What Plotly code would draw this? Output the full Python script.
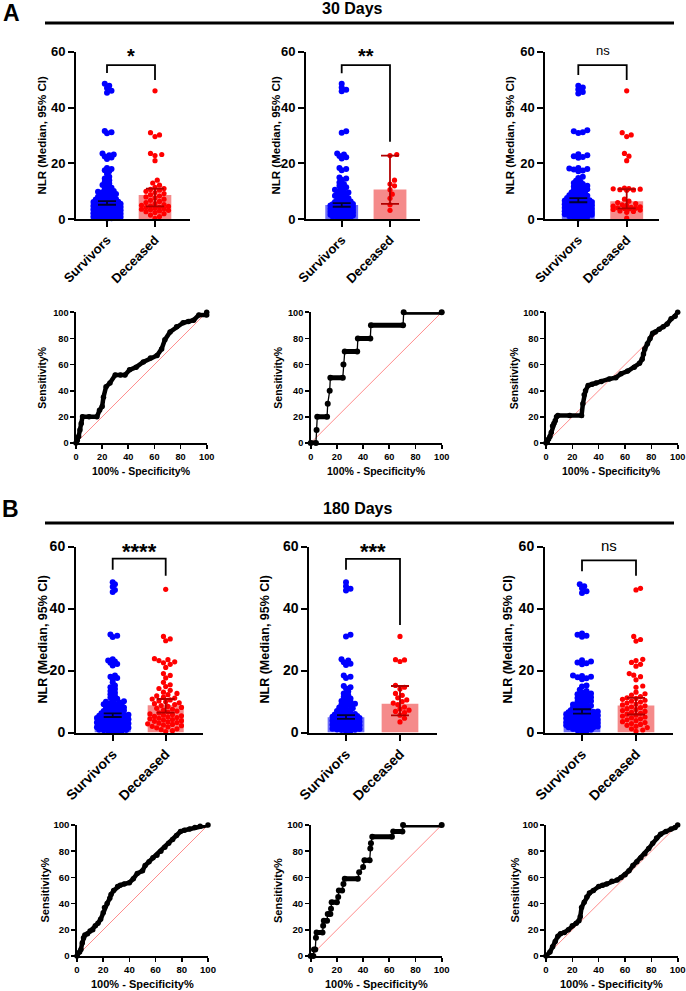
import numpy as np
import plotly.graph_objects as go

W, H = 686, 991
FONT = "Arial, 'Liberation Sans', Helvetica, sans-serif"

# ---------------- DATA ----------------
CATEGORIES = ["Survivors", "Deceased"]
SECTION_LETTERS = ["A", "B"]
SECTION_TITLES = ["30 Days", "180 Days"]

SURV_LEFT = [48.5, 47.8, 47.0, 46.0, 45.3, 31.6, 31.2, 30.8, 23.6, 23.2, 22.9, 22.5, 22.1, 21.6,
             18.4, 18.0, 17.6, 17.2, 16.2, 15.2, 14.6, 14.0, 13.4, 12.8, 12.3, 11.8, 11.3, 10.9,
             10.5, 10.1, 9.9, 9.7, 9.5, 9.3, 9.1, 8.9, 8.7, 8.5, 8.3, 8.1, 7.9, 7.7, 7.5, 7.3, 7.1,
             6.9, 6.8, 6.6, 6.5, 6.3, 6.2, 6.0, 5.9, 5.8, 5.7, 5.6, 5.5, 5.4, 5.3, 5.2, 5.1, 5.0,
             4.9, 4.8, 4.7, 4.6, 4.5, 4.4, 4.3, 4.2, 4.1, 4.0, 3.9, 3.8, 3.7, 3.6, 3.5, 3.4, 3.3,
             3.2, 3.1, 3.0, 2.9, 2.8, 2.7, 2.6, 2.5, 2.4, 2.3, 2.2, 2.1, 2.0, 1.9, 1.8, 1.7, 1.6,
             1.5, 1.4, 1.3, 1.2, 1.1, 1.0, 0.9, 0.8, 0.7, 0.6, 0.5, 0.4, 0.3]
SURV_MID = [48.5, 47.2, 46.4, 45.8, 31.5, 31.0, 23.6, 23.2, 22.7, 22.2, 21.8, 18.4, 18.0, 17.6,
            15.0, 14.6, 14.2, 13.2, 12.6, 12.0, 11.5, 11.0, 10.6, 10.2, 9.9, 9.6, 9.3, 9.0, 8.7,
            8.4, 8.1, 7.8, 7.5, 7.2, 6.9, 6.6, 6.4, 6.2, 6.0, 5.8, 5.6, 5.5, 5.4, 5.3, 5.2, 5.1,
            5.0, 4.9, 4.8, 4.7, 4.6, 4.5, 4.4, 4.3, 4.2, 4.1, 4.0, 3.9, 3.8, 3.7, 3.6, 3.5, 3.4,
            3.3, 3.2, 3.1, 3.0, 2.9, 2.8, 2.7, 2.6, 2.5, 2.4, 2.3, 2.2, 2.1, 2.0, 1.9, 1.8, 1.7,
            1.6, 1.5, 1.4, 1.3, 1.2, 1.1, 1.0, 0.9, 0.8, 0.6, 0.4]
SURV_RIGHT = [47.8, 47.2, 46.5, 45.6, 45.0, 31.9, 31.5, 31.2, 30.9, 23.3, 22.9, 22.6, 22.3, 22.0,
              18.4, 18.2, 18.0, 17.8, 17.5, 17.2, 15.2, 14.8, 13.8, 13.4, 13.0, 12.6, 12.3, 12.0,
              11.7, 11.4, 11.1, 10.8, 10.5, 10.2, 9.9, 9.6, 9.3, 9.0, 8.8, 8.6, 8.4, 8.2, 8.0, 7.8,
              7.6, 7.4, 7.2, 7.0, 6.9, 6.8, 6.7, 6.6, 6.5, 6.4, 6.3, 6.2, 6.1, 6.0, 5.9, 5.8, 5.7,
              5.6, 5.5, 5.4, 5.3, 5.2, 5.1, 5.0, 4.9, 4.8, 4.7, 4.6, 4.5, 4.4, 4.3, 4.2, 4.1, 4.0,
              3.9, 3.8, 3.7, 3.6, 3.5, 3.4, 3.3, 3.2, 3.1, 3.0, 2.9, 2.8, 2.7, 2.6, 2.5, 2.4, 2.3,
              2.2, 2.1, 2.0, 1.9, 1.8, 1.7, 1.6, 1.5, 1.3, 1.1, 0.9, 0.7, 0.5, 0.3]

DEC_A_LEFT = [46.0, 31.0, 30.2, 29.6, 23.6, 23.2, 22.8, 21.0, 14.0, 13.0, 12.2, 11.4, 11.0, 10.7,
              10.4, 10.0, 9.6, 9.2, 8.8, 8.4, 8.0, 7.6, 7.2, 6.8, 6.4, 6.0, 5.6, 5.3, 5.0, 4.8, 4.6,
              4.4, 4.2, 4.0, 3.8, 3.6, 3.4, 3.2, 3.0, 2.7, 2.4, 2.0, 1.5, 1.0, 0.3]
DEC_A_MID = [23.2, 22.8, 14.0, 12.6, 12.0, 10.6, 9.0, 7.5, 5.2, 3.2]
DEC_A_RIGHT = [46.0, 31.0, 30.2, 29.6, 23.6, 22.6, 21.0, 11.2, 11.0, 10.9, 10.8, 10.6, 10.5, 10.4,
               7.2, 6.5, 6.0, 5.6, 5.2, 5.0, 4.7, 4.5, 4.3, 4.1, 4.0, 3.9, 3.7, 3.5, 3.3, 3.0, 2.8,
               2.5, 0.4]
DEC_B_LEFT = [46.2, 31.0, 30.2, 29.6, 23.8, 23.5, 23.2, 22.8, 22.5, 22.0, 21.0, 19.0, 18.4, 17.6,
              16.2, 15.4, 14.8, 14.2, 13.6, 13.0, 12.6, 12.2, 11.8, 11.4, 11.1, 10.8, 10.5, 10.2,
              9.9, 9.6, 9.3, 9.0, 8.7, 8.4, 8.1, 7.8, 7.5, 7.2, 6.9, 6.6, 6.3, 6.0, 5.8, 5.6, 5.4,
              5.2, 5.0, 4.8, 4.6, 4.4, 4.2, 4.0, 3.8, 3.6, 3.4, 3.2, 3.0, 2.8, 2.6, 2.4, 2.2, 2.0,
              1.8, 1.5, 1.2, 0.9, 0.6, 0.3]
DEC_B_MID = [31.0, 23.5, 23.4, 22.9, 15.2, 14.6, 14.0, 12.6, 12.0, 11.2, 10.5, 10.0, 9.5, 9.0,
             8.2, 7.6, 7.2, 6.8, 6.4, 5.6, 4.6, 3.4]
DEC_B_RIGHT = [46.5, 46.0, 31.0, 30.0, 29.5, 23.6, 23.2, 22.6, 22.0, 21.4, 19.0, 18.5, 18.0, 17.0,
               15.0, 14.6, 13.0, 12.5, 12.1, 11.6, 11.2, 11.0, 10.7, 10.4, 10.1, 9.8, 9.5, 9.2,
               8.9, 8.6, 8.3, 8.0, 7.7, 7.4, 7.1, 6.8, 6.5, 6.2, 5.9, 5.6, 5.3, 5.0, 4.7, 4.4, 4.1,
               3.8, 3.5, 3.2, 2.9, 2.6, 2.3, 2.0, 1.6, 1.2, 0.8, 0.4]

# [survivors, deceased] per panel (left, mid, right)
MED_A = [[5.8, 8.7], [5.1, 10.7], [6.8, 6.5]]
CI_LO_A = [[5.2, 4.6], [4.5, 5.5], [6.1, 3.9]]
CI_HI_A = [[6.5, 11.0], [5.8, 22.8], [7.6, 10.8]]
MED_B = [[5.4, 8.8], [4.9, 9.3], [6.8, 8.7]]
CI_LO_B = [[5.0, 6.4], [4.4, 5.5], [6.1, 5.8]]
CI_HI_B = [[6.2, 10.8], [5.6, 15.0], [7.5, 11.2]]
SIG_A = ["*", "**", "ns"]
SIG_B = ["****", "***", "ns"]

Y_TICKS_BAR = [0, 20, 40, 60]
ROC_TICKS = [0, 20, 40, 60, 80, 100]

ROC_A_LEFT_X = [0, 1, 2, 3, 4, 5, 10, 16, 18, 20, 21, 23, 26, 30, 34, 37.5, 41, 46, 51.5, 57, 62, 65.5, 68, 72, 77, 82, 86, 90, 94, 100, 100]
ROC_A_LEFT_Y = [0, 2, 5, 10, 15, 20, 20, 20, 25, 28, 35, 43, 46, 52, 52, 52, 56, 58, 62, 65, 67, 72, 79, 85, 89, 92, 93, 94, 98, 98, 100]
ROC_A_MID_X = [0, 4, 4.5, 5, 12.5, 13, 14.5, 15, 24.5, 25, 26, 35.5, 36, 45.5, 46, 70.5, 71, 100]
ROC_A_MID_Y = [0, 0, 10, 20, 20, 30, 40, 50, 50, 60, 70, 70, 80, 80, 90, 90, 100, 100]
ROC_A_RIGHT_X = [0, 1, 2, 3, 4, 5, 6, 7, 8, 9, 18, 27, 28, 29, 30, 32, 35, 38, 42, 48, 53, 57, 62, 67, 71, 73, 74, 75, 77, 79, 81, 83, 86, 89, 92, 95, 98, 100]
ROC_A_RIGHT_Y = [0, 1, 3, 5, 8, 13, 15, 17, 20, 21, 21, 21, 30, 37, 40, 44, 45, 46, 47, 49, 50, 53, 55, 58, 61, 64, 68, 72, 76, 80, 84, 85, 87, 89, 91, 95, 97, 100]
ROC_B_LEFT_X = [0, 2, 3, 4, 5, 6, 8, 10, 12, 14, 16, 18, 20, 21, 23, 25, 26, 28, 31, 33, 36, 40, 43, 46, 50, 52, 55, 58, 61, 64, 67, 70, 73, 76, 79, 82, 86, 90, 94, 100]
ROC_B_LEFT_Y = [0, 3, 5, 10, 14, 16, 17, 19, 20, 23, 25, 28, 33, 37, 40, 44, 47, 50, 53, 54, 55, 56, 59, 63, 65, 69, 72, 75, 77, 80, 83, 86, 89, 92, 95, 96, 97, 98, 99, 100]
ROC_B_MID_X = [0, 2, 2.5, 3.5, 4, 4.5, 9, 9.5, 10, 12.5, 13, 15, 15.5, 16, 20, 21, 21.5, 24, 25, 26, 36, 37, 40, 41, 45, 45.5, 46, 47, 62, 63, 70, 70.5, 100]
ROC_B_MID_Y = [0, 0, 5, 5, 14, 18, 18, 23, 27, 27, 32, 32, 36, 41, 41, 45, 50, 50, 55, 59, 59, 64, 68, 73, 73, 82, 86, 91, 91, 95, 95, 100, 100]
ROC_B_RIGHT_X = [0, 3, 5, 7, 9, 11, 14, 17, 20, 23, 25, 26, 27, 29, 31, 33, 36, 40, 43, 46, 50, 54, 57, 60, 63, 66, 69, 72, 75, 78, 81, 84, 87, 91, 95, 98, 100]
ROC_B_RIGHT_Y = [0, 3, 7, 11, 15, 17, 18, 20, 23, 25, 27, 30, 37, 41, 45, 48, 50, 53, 54, 55, 57, 58, 60, 62, 65, 69, 72, 75, 78, 82, 86, 90, 93, 95, 97, 98, 100]

# ---------------- LAYOUT (pixel geometry) ----------------
def fx(x):
    return x / W

def fy(y):
    return 1 - y / H

BLUE = "#0000ff"
RED = "#ff0000"
BLUE_BAR = "#6e6ef8"
RED_BAR = "#f58a8a"
BLUE_ERR = "#000033"
RED_ERR = "#b00000"

BAR_PANELS = [
    dict(x0=76, x1=190, c0=107, c1=155, yt=51.7, yb=219.3, tx=42, sec=0),
    dict(x0=306, x1=420, c0=341.7, c1=390, yt=51.7, yb=219.3, tx=276, sec=0),
    dict(x0=545.3, x1=659, c0=578.3, c1=626.7, yt=51.7, yb=219.3, tx=510, sec=0),
    dict(x0=76, x1=203, c0=112.7, c1=165.7, yt=546.5, yb=732.5, tx=42, sec=1),
    dict(x0=309.3, x1=436.7, c0=346, c1=400, yt=546.5, yb=732.5, tx=264, sec=1),
    dict(x0=545, x1=672.7, c0=582, c1=636, yt=546.5, yb=732.5, tx=507, sec=1),
]
BRACKETS = [(55.2, 52.4, 49.9), (55.2, 52.3, 27.8), (55.2, 51.7, 49.9),
            (56.1, 52.5, 50.6), (56.0, 52.5, 34.7), (55.5, 52.0, 50.6)]
SIG_CENTER_Y = [51.7, 51.7, 51.7, 546.7, 546.7, 547.3]

ROC_PANELS = [
    dict(x0=76, x1=206.7, yt=312.3, yb=443, tx=42, sec=0),
    dict(x0=310.7, x1=441.7, yt=312.3, yb=443, tx=278, sec=0),
    dict(x0=546, x1=677.7, yt=312.3, yb=443, tx=513.5, sec=0),
    dict(x0=77, x1=208, yt=825, yb=956, tx=44, sec=1),
    dict(x0=310.7, x1=441.7, yt=825, yb=956, tx=277.5, sec=1),
    dict(x0=546, x1=677.7, yt=825, yb=956, tx=514, sec=1),
]
ROC_DATA = [(ROC_A_LEFT_X, ROC_A_LEFT_Y, False), (ROC_A_MID_X, ROC_A_MID_Y, True),
            (ROC_A_RIGHT_X, ROC_A_RIGHT_Y, False), (ROC_B_LEFT_X, ROC_B_LEFT_Y, False),
            (ROC_B_MID_X, ROC_B_MID_Y, True), (ROC_B_RIGHT_X, ROC_B_RIGHT_Y, False)]

SURV_SETS = [SURV_LEFT, SURV_MID, SURV_RIGHT, SURV_LEFT, SURV_MID, SURV_RIGHT]
DEC_SETS = [DEC_A_LEFT, DEC_A_MID, DEC_A_RIGHT, DEC_B_LEFT, DEC_B_MID, DEC_B_RIGHT]
MEDS = MED_A + MED_B
LOS = CI_LO_A + CI_LO_B
HIS = CI_HI_A + CI_HI_B
SIGS = SIG_A + SIG_B
BLUE_HALF = [15.5, 13, 15.5, 16.5, 14, 16.5]
RED_HALF = [14, 12, 14, 18, 15, 16]


def swarm(values, ppu_y, d, maxhalf, tight):
    vals = np.sort(np.asarray(values, float))
    ys = vals * ppu_y
    step = d * 0.45
    cands = [0.0]
    k = 1
    while k * step <= maxhalf:
        cands += [k * step, -k * step]
        k += 1
    placed = []
    xs = np.zeros(len(vals))
    for i, y in enumerate(ys):
        chosen = None
        best_c, best_s = 0.0, -1.0
        for c in cands:
            mind = 1e9
            for (px_, py_) in placed:
                if abs(py_ - y) < d:
                    mind = min(mind, np.hypot(px_ - c, py_ - y))
            if mind >= d * tight:
                chosen = c
                break
            if mind > best_s:
                best_s, best_c = mind, c
        if chosen is None:
            chosen = best_c
        xs[i] = chosen
        placed.append((chosen, y))
    return vals, xs


fig = go.Figure()
layout = dict(width=W, height=H, margin=dict(l=0, r=0, t=0, b=0, pad=0, autoexpand=False),
              paper_bgcolor="white", plot_bgcolor="white", showlegend=False,
              barmode="overlay", font=dict(family=FONT, color="black"))
annotations = []
shapes = []

ax = 0
for i, p in enumerate(BAR_PANELS):
    ax += 1
    xa, ya = f"x{ax}", f"y{ax}"
    s = p["c1"] - p["c0"]
    ppu = (p["yb"] - p["yt"]) / 60.0
    big = p["sec"] == 1
    tick_fs = 14 if big else 13
    layout[f"xaxis{ax}"] = dict(
        domain=[fx(p["x0"]), fx(p["x1"])], anchor=ya, automargin=False,
        range=[(p["x0"] - p["c0"]) / s, (p["x1"] - p["c0"]) / s],
        tickvals=[0, 1], ticktext=CATEGORIES, tickangle=-45,
        showline=True, linecolor="black", linewidth=2, ticks="outside", ticklen=6,
        tickwidth=2, tickcolor="black", showgrid=False, zeroline=False,
        tickfont=dict(family=FONT, size=tick_fs, color="black", weight="bold"))
    layout[f"yaxis{ax}"] = dict(
        domain=[fy(p["yb"]), fy(p["yt"])], anchor=xa, range=[0, 60], automargin=False,
        tickvals=Y_TICKS_BAR, showline=True, linecolor="black", linewidth=2,
        ticks="outside", ticklen=6, tickwidth=2, tickcolor="black", showgrid=False,
        zeroline=False, tickfont=dict(family=FONT, size=tick_fs, color="black", weight="bold"))

    meds, los, his = MEDS[i], LOS[i], HIS[i]
    for k, col in enumerate([BLUE_BAR, RED_BAR]):
        fig.add_trace(go.Bar(x=[k], y=[meds[k]], width=0.68, marker=dict(color=col, line=dict(width=0)),
                             xaxis=xa, yaxis=ya, hoverinfo="skip"))
    for k, (vals, col, mh, tight, msz) in enumerate([(SURV_SETS[i], BLUE, BLUE_HALF[i], 0.62, 6.0),
                                                     (DEC_SETS[i], RED, RED_HALF[i], 0.95, 5.2)]):
        v, offs = swarm(vals, ppu, 5.0, mh, tight)
        fig.add_trace(go.Scatter(x=k + offs / s, y=v, mode="markers",
                                 marker=dict(size=msz, color=col, line=dict(width=0)),
                                 cliponaxis=False, xaxis=xa, yaxis=ya, hoverinfo="skip"))
    for k, col in enumerate([BLUE_ERR, RED_ERR]):
        fig.add_trace(go.Scatter(x=[k], y=[meds[k]], mode="markers", marker=dict(size=1, opacity=0),
                                 error_y=dict(type="data", symmetric=False, array=[his[k] - meds[k]],
                                              arrayminus=[meds[k] - los[k]], color=col,
                                              thickness=1.8, width=9),
                                 cliponaxis=False, xaxis=xa, yaxis=ya, hoverinfo="skip"))
    top, l_end, r_end = BRACKETS[i]
    fig.add_trace(go.Scatter(x=[0, 0, 1, 1], y=[l_end, top, top, r_end], mode="lines",
                             line=dict(color="black", width=1.8), cliponaxis=False,
                             xaxis=xa, yaxis=ya, hoverinfo="skip"))
    sig = SIGS[i]
    gc = SIG_CENTER_Y[i]
    if sig == "ns":
        fs = 15 if big else 13
        ty = gc - 0.1 * fs
        txt = sig
    else:
        fs = 22 if big else 20
        ty = gc + 0.22 * fs
        txt = f"<b>{sig}</b>"
    annotations.append(dict(x=fx((p["c0"] + p["c1"]) / 2), y=fy(ty), xref="paper", yref="paper",
                            text=txt, showarrow=False, xanchor="center", yanchor="middle",
                            font=dict(family=FONT, size=fs, color="black")))
    annotations.append(dict(x=fx(p["tx"]), y=fy((p["yt"] + p["yb"]) / 2), xref="paper", yref="paper",
                            text="<b>NLR (Median, 95% CI)</b>", textangle=-90, showarrow=False,
                            xanchor="center", yanchor="middle",
                            font=dict(family=FONT, size=12.5 if big else 11.5, color="black")))

for i, p in enumerate(ROC_PANELS):
    ax += 1
    xa, ya = f"x{ax}", f"y{ax}"
    big = p["sec"] == 1
    tfs = 9.6 if big else 9.2
    common = dict(range=[0, 100], tickvals=ROC_TICKS, showline=True, linecolor="black",
                  linewidth=1.6, ticks="outside", ticklen=4, tickwidth=1.6, tickcolor="black",
                  showgrid=False, zeroline=False, automargin=False,
                  tickfont=dict(family=FONT, size=tfs, color="black", weight="bold"))
    layout[f"xaxis{ax}"] = dict(domain=[fx(p["x0"]), fx(p["x1"])], anchor=ya, **common)
    layout[f"yaxis{ax}"] = dict(domain=[fy(p["yb"]), fy(p["yt"])], anchor=xa, **common)
    fig.add_trace(go.Scatter(x=[ROC_TICKS[0], ROC_TICKS[-1]], y=[ROC_TICKS[0], ROC_TICKS[-1]],
                             mode="lines", line=dict(color="#ff5a5a", width=0.7),
                             xaxis=xa, yaxis=ya, hoverinfo="skip"))
    xs, ys, stepped = ROC_DATA[i]
    if stepped:
        fig.add_trace(go.Scatter(x=xs, y=ys, mode="lines", line=dict(color="black", width=1.3),
                                 cliponaxis=False, xaxis=xa, yaxis=ya, hoverinfo="skip"))
        hx, hy = [], []
        for j in range(len(xs) - 1):
            if ys[j] == ys[j + 1]:
                hx += [xs[j], xs[j + 1], None]
                hy += [ys[j], ys[j + 1], None]
        fig.add_trace(go.Scatter(x=hx, y=hy, mode="lines", line=dict(color="black", width=5),
                                 cliponaxis=False, xaxis=xa, yaxis=ya, hoverinfo="skip"))
        fig.add_trace(go.Scatter(x=xs, y=ys, mode="markers", marker=dict(color="black", size=6),
                                 cliponaxis=False, xaxis=xa, yaxis=ya, hoverinfo="skip"))
    else:
        fig.add_trace(go.Scatter(x=xs, y=ys, mode="lines+markers",
                                 line=dict(color="black", width=4.5),
                                 marker=dict(color="black", size=5.5),
                                 cliponaxis=False, xaxis=xa, yaxis=ya, hoverinfo="skip"))
    ttl_fs = 11 if big else 10.5
    annotations.append(dict(x=fx(p["tx"]), y=fy((p["yt"] + p["yb"]) / 2), xref="paper", yref="paper",
                            text="<b>Sensitivity%</b>", textangle=-90, showarrow=False,
                            xanchor="center", yanchor="middle",
                            font=dict(family=FONT, size=ttl_fs, color="black")))
    annotations.append(dict(x=fx((p["x0"] + p["x1"]) / 2), y=fy(p["yb"] + 28), xref="paper",
                            yref="paper", text="<b>100% - Specificity%</b>", showarrow=False,
                            xanchor="center", yanchor="middle",
                            font=dict(family=FONT, size=ttl_fs, color="black")))

HEADERS = [dict(letter_xy=(11, 13), title_xy=(352, 9), line_y=23),
           dict(letter_xy=(10, 509), title_xy=(357, 508), line_y=523)]
for k, hd in enumerate(HEADERS):
    annotations.append(dict(x=fx(hd["letter_xy"][0]), y=fy(hd["letter_xy"][1]), xref="paper",
                            yref="paper", text=f"<b>{SECTION_LETTERS[k]}</b>", showarrow=False,
                            xanchor="center", yanchor="middle",
                            font=dict(family=FONT, size=23, color="black")))
    annotations.append(dict(x=fx(hd["title_xy"][0]), y=fy(hd["title_xy"][1]), xref="paper",
                            yref="paper", text=f"<b>{SECTION_TITLES[k]}</b>", showarrow=False,
                            xanchor="center", yanchor="middle",
                            font=dict(family=FONT, size=16, color="black")))
    shapes.append(dict(type="line", xref="paper", yref="paper", x0=fx(45), x1=fx(674),
                       y0=fy(hd["line_y"]), y1=fy(hd["line_y"]), line=dict(color="black", width=3)))

layout["annotations"] = annotations
layout["shapes"] = shapes
fig.update_layout(**layout)
fig.write_html("out.html", config={"displayModeBar": False, "staticPlot": True},
               post_script="document.body.style.margin='0';document.body.style.overflow='hidden';")
